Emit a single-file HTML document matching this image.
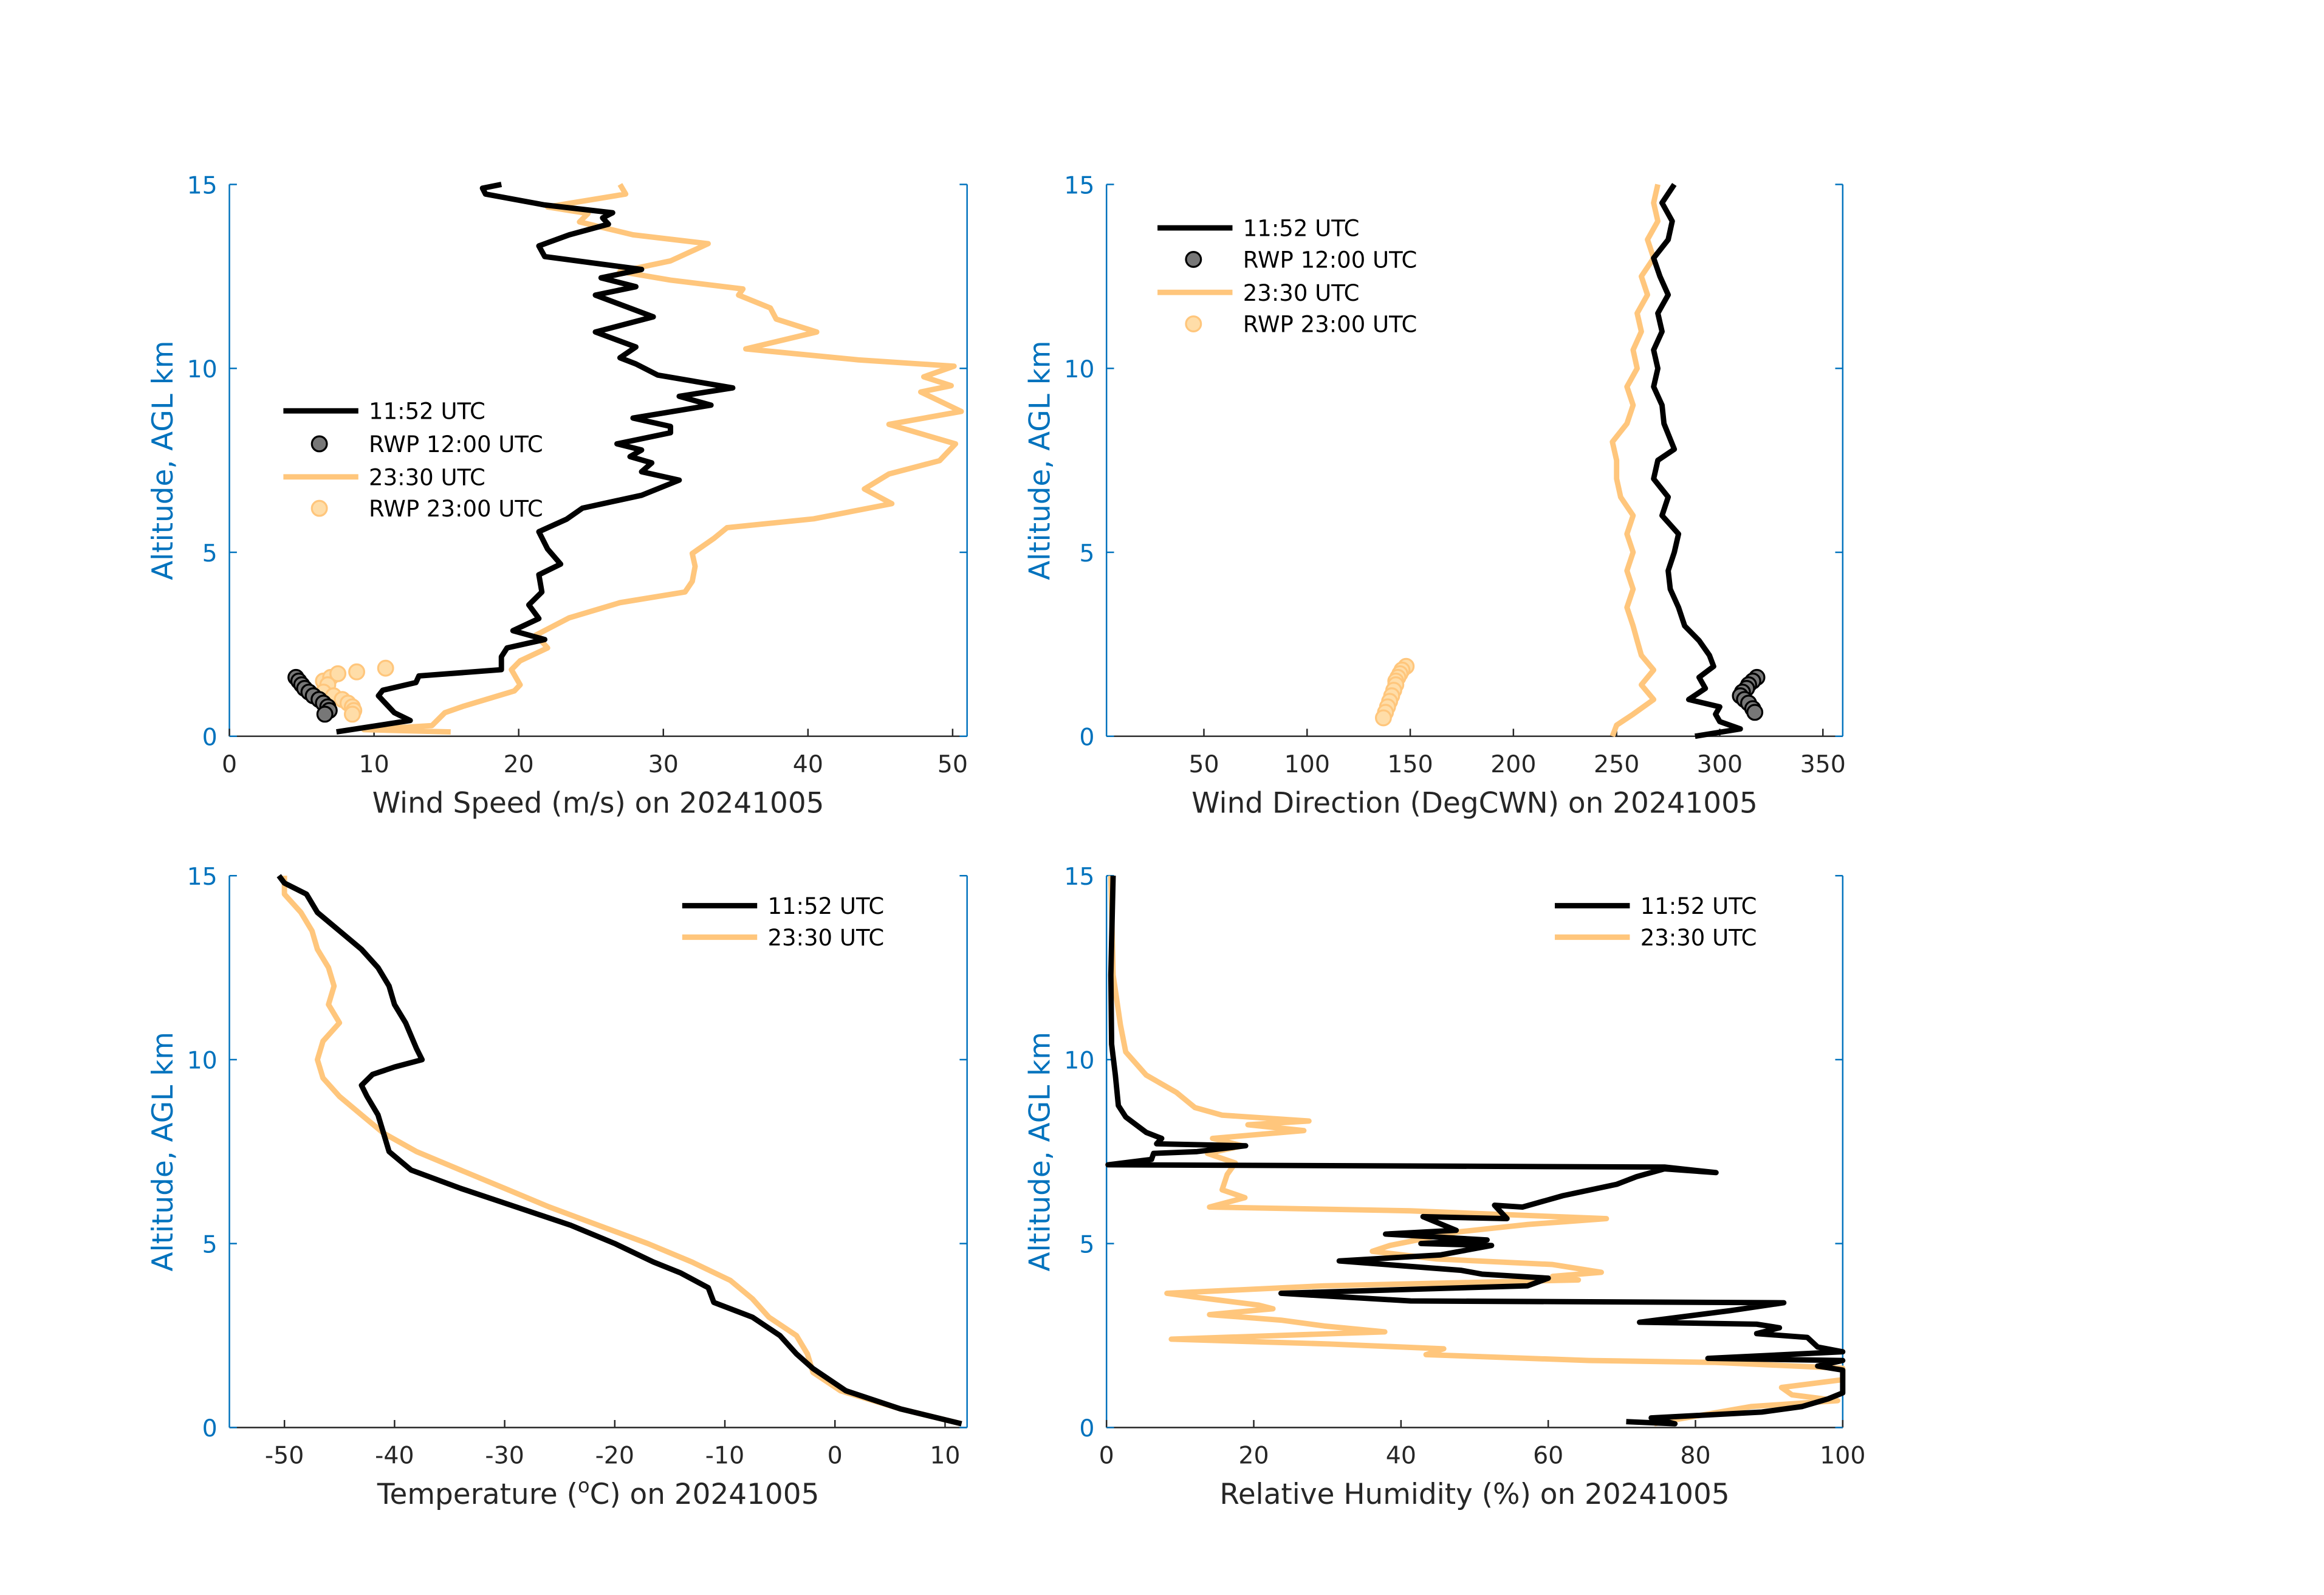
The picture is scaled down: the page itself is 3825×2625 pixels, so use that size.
<!DOCTYPE html>
<html><head><meta charset="utf-8"><style>
html,body{margin:0;padding:0;background:#fff;}
svg{display:block;}
text{font-family:"DejaVu Sans","Liberation Sans",sans-serif;}
</style></head><body>
<svg id="chart" xmlns="http://www.w3.org/2000/svg" width="3825" height="2625" viewBox="0 0 1550 1063.7" preserveAspectRatio="none">
<rect width="1550" height="1064" fill="#fff"/>
</svg>
<script>
// ---- data arrays ----
const wsBlackAlt=[0.12,0.43,0.64,1.1,1.25,1.46,1.64,1.81,2.16,2.4,2.63,2.87,3.2,3.57,3.92,4.39,4.68,5.09,5.56,5.9,6.2,6.55,6.96,7.19,7.43,7.6,7.78,7.95,8.25,8.42,8.65,9.0,9.24,9.47,9.82,10.12,10.29,10.58,10.99,11.4,11.99,12.22,12.46,12.69,13.04,13.33,13.63,13.92,14.09,14.23,14.44,14.74,14.9,15.0];
const wsBlackVal=[7.4,12.5,11.4,10.3,10.6,12.9,13.1,18.8,18.8,19.2,21.8,19.6,21.4,20.7,21.6,21.4,22.9,22,21.4,23.3,24.4,28.5,31.1,28.5,29.2,27.7,28.5,26.8,30.5,30.5,27.9,33.3,31.1,34.8,29.6,28.1,27,28.1,25.3,29.3,25.3,28.1,25.7,28.5,21.8,21.4,23.5,26.2,25.8,26.5,21.8,17.7,17.5,18.8];
const wsOrangeAlt=[0.12,0.18,0.29,0.64,0.82,1.23,1.4,1.81,2.05,2.4,2.75,3.22,3.63,3.92,4.21,4.62,4.97,5.38,5.67,5.91,6.32,6.72,7.13,7.49,7.95,8.48,8.83,9.36,9.53,9.77,10.06,10.23,10.53,10.99,11.34,11.64,11.99,12.16,12.4,12.63,12.92,13.39,13.63,13.98,14.21,14.39,14.74,15.0];
const wsOrangeVal=[15.3,9.3,14,14.9,16.2,19.7,20.1,19.5,20.1,22,21.2,23.5,27,31.5,32,32.2,32,33.5,34.4,40.4,45.8,43.9,45.6,49.1,50.2,45.6,50.6,47.8,49.9,48,50.1,43.5,35.7,40.6,37.8,37.4,35.2,35.5,30.5,27,30.5,33.1,27.9,24.2,24.8,22,27.4,27];
const rwp12SpdVal=[4.6,4.8,5.0,5.2,5.5,5.8,6.2,6.5,6.8,6.9,6.6];
const rwp12SpdAlt=[1.6,1.5,1.4,1.3,1.2,1.1,1.0,0.9,0.8,0.7,0.6];
const rwp23SpdVal=[6.5,7.0,7.5,8.8,10.8,6.8,6.5,7.2,7.8,8.2,8.5,8.6,8.5];
const rwp23SpdAlt=[1.5,1.6,1.7,1.75,1.85,1.4,1.2,1.1,1.0,0.9,0.8,0.7,0.6];

const wdBlackAlt=[0.0,0.2,0.4,0.6,0.8,1.0,1.3,1.6,1.9,2.2,2.6,3.0,3.5,4.0,4.5,5.0,5.5,6.0,6.5,7.0,7.5,7.8,8.5,9.0,9.5,10.0,10.5,11.0,11.5,12.0,12.5,13.0,13.5,14.0,14.5,15.0];
const wdBlackVal=[288,310,300,298,300,285,293,290,297,295,290,283,280,276,275,278,280,272,275,268,270,278,273,272,268,270,268,272,270,275,271,268,275,277,272,278];
const wdOrangeAlt=[0,0.3,0.6,1.0,1.4,1.8,2.2,2.6,3.0,3.5,4.0,4.5,5.0,5.5,6.0,6.5,7.0,7.5,8.0,8.5,9.0,9.5,10.0,10.5,11.0,11.5,12.0,12.5,13.0,13.5,14.0,14.5,15.0];
const wdOrangeVal=[248,250,258,268,262,268,262,260,258,255,258,255,258,255,258,252,250,250,248,255,258,255,260,258,262,260,265,262,268,265,270,268,270];
const rwp12DirVal=[318,316,314,313,311,310,312,314,316,317];
const rwp12DirAlt=[1.6,1.5,1.4,1.3,1.2,1.1,1.0,0.9,0.75,0.65];
const rwp23DirVal=[148,146,145,144,143,143,142,141,140,139,138,137];
const rwp23DirAlt=[1.9,1.8,1.7,1.6,1.5,1.4,1.25,1.1,0.95,0.8,0.65,0.5];

const tBlackAlt=[0.1,0.5,1.0,1.6,2.0,2.5,3.0,3.4,3.8,4.2,4.5,5.0,5.5,6.0,6.5,7.0,7.5,8.0,8.5,9.0,9.3,9.6,9.8,10.0,10.3,11.0,11.5,12.0,12.5,13.0,13.5,14.0,14.5,14.8,15.0];
const tBlackVal=[11.5,6,1,-2,-3.5,-5,-7.5,-11,-11.5,-14,-16.5,-20,-24,-29,-34,-38.5,-40.5,-41,-41.5,-42.5,-43,-42,-40,-37.5,-38,-39,-40,-40.5,-41.5,-43,-45,-47,-48,-50,-50.5];
const tOrangeAlt=[0.1,0.5,1.0,1.5,2.0,2.5,3.0,3.5,4.0,4.5,5.0,5.5,6.0,6.5,7.0,7.5,8.0,8.5,9.0,9.5,10.0,10.5,11.0,11.5,12.0,12.5,13.0,13.5,14.0,14.5,15.0];
const tOrangeVal=[11.5,6,0.5,-2,-2.5,-3.5,-6,-7.5,-9.5,-13,-17,-21.5,-26,-30,-34,-38,-41,-43,-45,-46.5,-47,-46.5,-45,-46,-45.5,-46,-47,-47.5,-48.5,-50,-50];

const rhBlackAlt=[0.16,0.1,0.26,0.42,0.57,0.78,0.94,1.56,1.67,1.82,1.88,2.06,2.19,2.45,2.55,2.71,2.81,2.86,3.18,3.39,3.44,3.65,3.85,4.06,4.17,4.27,4.53,4.69,4.95,5.0,5.1,5.26,5.36,5.73,5.68,6.04,5.99,6.3,6.61,6.82,7.03,6.93,7.08,7.14,7.29,7.45,7.5,7.66,7.71,7.86,8.02,8.44,8.75,9.58,10.42,12.3,15];
const rhBlackVal=[70.6,77.2,74,89,94.5,98,100,100,96.6,100,81.7,100,96.6,95.2,88.3,91.4,88.3,72.4,84.8,92,41.3,23.7,57.2,60,51,48.2,31.6,45.4,52.3,42.7,51.7,37.9,47.5,43,54.4,52.7,56.5,62,69.3,72,75.8,82.8,75.8,0.2,6.1,6.4,12.3,18.9,6.8,7.5,5.4,2.6,1.6,1.2,0.7,0.6,0.9];
const rhOrangeAlt=[0.1,0.21,0.57,0.73,0.89,1.09,1.3,1.61,1.77,1.82,1.98,2.14,2.27,2.4,2.6,2.76,2.92,3.07,3.23,3.33,3.54,3.65,3.85,4.01,4.11,4.22,4.43,4.58,4.79,4.95,5.31,5.52,5.68,5.89,5.99,6.25,6.46,6.88,7.19,7.45,7.66,7.86,8.07,8.23,8.33,8.49,8.7,9.11,9.58,10.21,10.94,12.3,15];
const rhOrangeVal=[74.4,77.2,87.6,99.3,93.1,91.7,100,100,82.7,65.5,43.4,45.8,30.3,8.8,37.8,29.6,23.7,14,22.6,20.6,12.3,8.2,29.6,64.1,60.6,67.2,60.6,44.8,36.1,38.5,47.5,57.2,67.9,41.3,14,18.8,15.7,16.4,17.5,13.7,18.5,14.4,26.8,19.2,27.5,15.7,12,9.5,5.4,2.6,1.9,0.9,0.6];

const altTicks=[0,5,10,15];
const wsTicks=[0,10,20,30,40,50];
const wdTicks=[50,100,150,200,250,300,350];
const tTicks=[-50,-40,-30,-20,-10,0,10];
const rhTicks=[0,20,40,60,80,100];

const NS="http://www.w3.org/2000/svg";
const svg=document.getElementById('chart');
const BLUE="#0072BD", BLK="#000", ORG="#FFC67C", GRAY="#262626";
function el(tag,attrs,parent){const e=document.createElementNS(NS,tag);for(const k in attrs)e.setAttribute(k,attrs[k]);(parent||svg).appendChild(e);return e;}

function panel(name,x0,x1,xmin,xmax,y0,y1,xticks,xlabel,xlabelSup){
  const g=el('g',{});
  
  
  const P={xs:v=>x0+(v-xmin)/(xmax-xmin)*(x1-x0),ys:a=>y0-(a/15)*(y0-y1),g};
  const ax=el('line',{x1:x0,y1:y0,x2:x1,y2:y0,stroke:GRAY,'stroke-width':1},g);
  
  
  const ly=el('line',{x1:x0,y1:y0,x2:x0,y2:y1,stroke:BLUE,'stroke-width':1},g);
  
  
  const ry=el('line',{x1:x1,y1:y0,x2:x1,y2:y1,stroke:BLUE,'stroke-width':1},g);
  
  
  xticks.forEach(v=>{const x=P.xs(v);
    el('line',{x1:x,y1:y0,x2:x,y2:y0-5,stroke:GRAY,'stroke-width':1},g);
    const t=el('text',{x:x,y:y0+24,'font-size':16,fill:GRAY,'text-anchor':'middle'},g);t.textContent=v;
    
    
  });
  altTicks.forEach(a=>{const y=P.ys(a);
    el('line',{x1:x0,y1:y,x2:x0+5,y2:y,stroke:BLUE,'stroke-width':1},g);
    el('line',{x1:x1,y1:y,x2:x1-5,y2:y,stroke:BLUE,'stroke-width':1},g);
    const t=el('text',{x:x0-8,y:y+6,'font-size':16,fill:BLUE,'text-anchor':'end'},g);t.textContent=a;
    
    
  });
  const yl=el('text',{x:0,y:0,'font-size':19,fill:BLUE,'text-anchor':'middle',transform:`translate(${x0-38},${(y0+y1)/2}) rotate(-90)`},g);
  yl.textContent='Altitude, AGL km';
  
  
  const xl=el('text',{x:(x0+x1)/2,y:y0+51,'font-size':19,fill:GRAY,'text-anchor':'middle'},g);
  if(xlabelSup){xl.innerHTML='Temperature (<tspan baseline-shift="super" font-size="13">o</tspan>C) on 20241005';}
  else xl.textContent=xlabel;
  
  
  return P;
}
function line(P,vals,alts,color,name){
  const d=vals.map((v,i)=>(i?'L':'M')+P.xs(v).toFixed(1)+','+P.ys(alts[i]).toFixed(1)).join(' ');
  const p=el('path',{d:d,fill:'none',stroke:color,'stroke-width':3.6,'stroke-linejoin':'round'},P.g);
  
  
}
function dots(P,vals,alts,fill,stroke,name){
  vals.forEach((v,i)=>{const c=el('circle',{cx:P.xs(v),cy:P.ys(alts[i]),r:5,fill:fill,stroke:stroke,'stroke-width':1.3},P.g);
    
    });
}
function legend(P,lx,rows,entries){
  entries.forEach((e,i)=>{const y=rows[i];
    if(e.type==='line'){const l=el('line',{x1:lx,y1:y,x2:lx+50,y2:y,stroke:e.color,'stroke-width':3.6},P.g);
      
      }
    else{const c=el('circle',{cx:lx+24,cy:y,r:5,fill:e.fill,stroke:e.stroke,'stroke-width':1.3},P.g);
      
      }
    const t=el('text',{x:lx+57,y:y+5.5,'font-size':15,fill:'#000'},P.g);t.textContent=e.label;
    
    
  });
}
const full=[{type:'line',color:BLK,label:'11:52 UTC'},{type:'dot',fill:'#777',stroke:BLK,label:'RWP 12:00 UTC'},{type:'line',color:ORG,label:'23:30 UTC'},{type:'dot',fill:'#FFDDA8',stroke:ORG,label:'RWP 23:00 UTC'}];
const two=[{type:'line',color:BLK,label:'11:52 UTC'},{type:'line',color:ORG,label:'23:30 UTC'}];

const P1=panel('wind-speed-panel',153,645,0,51,491,123,wsTicks,'Wind Speed (m/s) on 20241005');
line(P1,wsOrangeVal,wsOrangeAlt,ORG,'series-2330-speed');
line(P1,wsBlackVal,wsBlackAlt,BLK,'series-1152-speed');
dots(P1,rwp23SpdVal,rwp23SpdAlt,'#FFDDA8',ORG,'rwp-2300-point');
dots(P1,rwp12SpdVal,rwp12SpdAlt,'#777',BLK,'rwp-1200-point');
legend(P1,189,[274,296,318,339],full);

const P2=panel('wind-direction-panel',738,1229,2.8,359.6,491,123,wdTicks,'Wind Direction (DegCWN) on 20241005');
line(P2,wdOrangeVal,wdOrangeAlt,ORG,'series-2330-direction');
line(P2,wdBlackVal,wdBlackAlt,BLK,'series-1152-direction');
dots(P2,rwp23DirVal,rwp23DirAlt,'#FFDDA8',ORG,'rwp-2300-point');
dots(P2,rwp12DirVal,rwp12DirAlt,'#777',BLK,'rwp-1200-point');
legend(P2,772,[152,173,195,216],full);

const P3=panel('temperature-panel',153,645,-55,12,952,584,tTicks,'',true);
line(P3,tOrangeVal,tOrangeAlt,ORG,'series-2330-temperature');
line(P3,tBlackVal,tBlackAlt,BLK,'series-1152-temperature');
legend(P3,455,[604,625],two);

const P4=panel('humidity-panel',738,1229,0,100,952,584,rhTicks,'Relative Humidity (%) on 20241005');
line(P4,rhOrangeVal,rhOrangeAlt,ORG,'series-2330-humidity');
line(P4,rhBlackVal,rhBlackAlt,BLK,'series-1152-humidity');
legend(P4,1037,[604,625],two);
</script>
</body></html>
